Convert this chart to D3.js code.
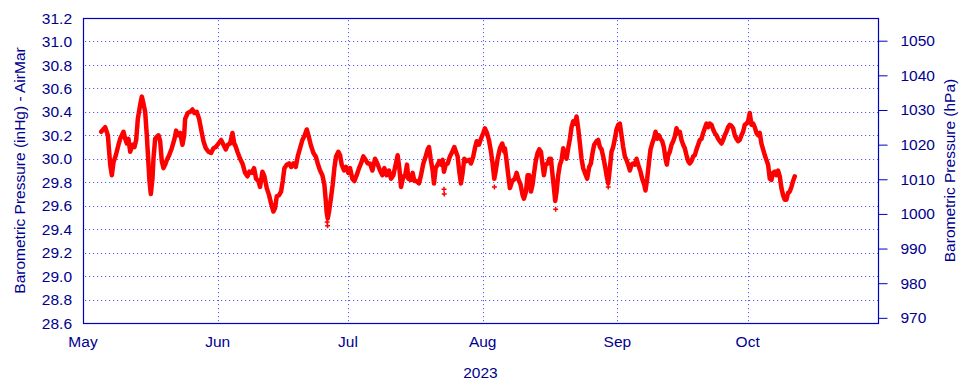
<!DOCTYPE html>
<html>
<head>
<meta charset="utf-8">
<script src="https://cdn.jsdelivr.net/npm/d3@7"></script>
<style>
  body { margin: 0; background: #fff; }
  svg { display: block; font-family: "Liberation Sans", Arial, sans-serif; }
</style>
</head>
<body>
<svg width="960" height="384"></svg>
<script>
// readings: [days since 1 May 2023, pressure inHg]
var mayReadings = [
  [4.19, 30.23], [5.11, 30.27], [5.72, 30.20], [6.26, 29.95], [6.64, 29.86], [7.02, 29.97],
  [7.56, 30.03], [8.17, 30.12], [8.56, 30.17], [9.32, 30.23], [9.71, 30.17], [10.09, 30.13],
  [10.47, 30.17], [10.86, 30.06], [11.39, 30.12], [11.85, 30.10], [12.24, 30.16], [12.62, 30.34],
  [13.16, 30.46], [13.54, 30.53], [13.92, 30.47], [14.31, 30.40], [14.69, 30.20], [15.08, 29.95],
  [15.30, 29.81], [15.61, 29.70], [15.99, 29.83], [16.22, 30.00], [16.61, 30.17], [17.07, 30.19],
  [17.38, 30.20], [17.76, 30.15], [18.14, 29.98], [18.53, 29.92], [18.91, 29.95], [19.29, 29.99],
  [19.83, 30.03], [20.44, 30.09], [21.06, 30.17], [21.44, 30.24], [21.82, 30.20], [22.36, 30.22],
  [22.90, 30.12], [23.28, 30.20], [23.51, 30.34], [24.12, 30.39], [24.66, 30.40], [25.20, 30.42],
  [25.66, 30.39], [26.19, 30.40], [26.73, 30.34], [27.19, 30.25], [27.73, 30.15], [28.27, 30.09],
  [28.88, 30.06], [29.49, 30.05], [30.03, 30.09], [30.57, 30.10]
];
var junReadings = [
  [31.18, 30.13], [31.79, 30.16], [32.33, 30.12], [32.87, 30.08], [33.33, 30.12], [33.86, 30.13],
  [34.40, 30.22], [34.86, 30.12], [35.01, 30.12], [35.55, 30.06], [36.16, 30.00], [36.70, 29.96],
  [37.31, 29.88], [37.85, 29.85], [38.31, 29.89], [38.85, 29.88], [39.38, 29.92], [39.84, 29.83],
  [40.38, 29.81], [40.76, 29.76], [41.30, 29.89], [41.76, 29.85], [42.30, 29.75], [42.83, 29.69],
  [43.29, 29.62], [43.83, 29.55], [44.21, 29.58], [44.60, 29.68], [45.13, 29.69], [45.59, 29.72],
  [45.98, 29.81], [46.36, 29.92], [46.90, 29.95], [47.43, 29.96], [47.90, 29.93], [48.43, 29.96],
  [48.97, 29.93], [49.43, 30.02], [49.97, 30.09], [50.50, 30.16], [51.04, 30.20], [51.50, 30.25],
  [51.96, 30.19], [52.42, 30.12], [53.03, 30.05], [53.57, 30.02], [54.03, 29.96], [54.57, 29.90],
  [55.10, 29.86], [55.56, 29.78], [55.87, 29.65], [56.10, 29.54], [56.33, 29.49], [56.64, 29.55],
  [57.02, 29.65], [57.48, 29.78], [57.86, 29.92], [58.25, 30.02], [58.78, 30.06], [59.17, 30.03],
  [59.55, 29.95], [60.09, 29.90], [60.55, 29.93]
];
var julReadings = [
  [61.08, 29.88], [61.47, 29.92], [62.00, 29.83], [62.46, 29.81], [63.00, 29.86], [63.54, 29.92],
  [64.00, 29.96], [64.53, 30.02], [65.07, 29.99], [65.53, 29.96], [66.07, 29.96], [66.61, 29.90],
  [67.22, 30.00], [67.75, 29.96], [68.37, 29.90], [68.91, 29.86], [69.37, 29.92], [69.90, 29.86],
  [70.44, 29.90], [70.90, 29.83], [71.44, 29.86], [71.97, 29.95], [72.43, 30.03], [72.82, 29.92],
  [73.20, 29.76], [73.74, 29.85], [74.12, 29.85], [74.58, 29.95], [74.89, 29.83], [75.42, 29.82],
  [75.88, 29.88], [76.27, 29.81], [76.80, 29.81], [77.34, 29.79], [77.80, 29.86], [78.34, 29.96],
  [78.88, 30.02], [79.34, 30.08], [79.64, 30.10], [80.03, 30.00], [80.49, 29.90], [80.79, 29.79],
  [81.18, 29.92], [81.64, 29.95], [82.02, 29.98], [82.40, 29.95], [82.79, 29.99], [83.09, 29.89],
  [83.48, 29.95], [83.94, 29.96], [84.47, 30.02], [85.01, 30.06], [85.47, 30.10], [85.85, 30.06],
  [86.24, 30.02], [86.62, 29.89], [87.00, 29.79], [87.39, 29.88], [87.77, 30.00], [88.31, 29.98],
  [88.84, 29.99], [89.30, 29.96], [89.84, 30.02], [90.22, 30.09], [90.61, 30.15], [91.14, 30.12],
  [91.60, 30.17]
];
var augReadings = [
  [92.14, 30.22], [92.52, 30.26], [92.98, 30.22], [93.44, 30.16], [93.91, 30.06], [94.29, 29.96],
  [94.67, 29.83], [94.98, 29.89], [95.44, 30.00], [95.98, 30.09], [96.51, 30.13], [96.97, 30.06],
  [97.12, 30.09], [97.51, 29.98], [97.89, 29.86], [98.27, 29.75], [98.81, 29.81], [99.42, 29.83],
  [99.81, 29.88], [100.19, 29.83], [100.73, 29.78], [101.19, 29.69], [101.50, 29.66], [101.96, 29.72],
  [102.34, 29.86], [102.72, 29.86], [103.11, 29.72], [103.49, 29.78], [103.87, 29.89], [104.26, 29.99],
  [104.64, 30.05], [105.02, 30.08], [105.41, 30.06], [105.79, 29.95], [106.10, 29.86], [106.48, 29.95],
  [106.94, 29.96], [107.32, 30.00], [107.71, 30.00], [108.09, 29.86], [108.40, 29.75], [108.70, 29.64],
  [109.01, 29.72], [109.39, 29.86], [109.78, 29.95], [110.16, 29.99], [110.54, 30.09], [110.93, 30.03],
  [111.31, 30.00], [111.69, 30.09], [112.08, 30.17], [112.46, 30.27], [112.84, 30.32], [113.23, 30.30],
  [113.61, 30.36], [113.99, 30.26], [114.38, 30.13], [114.76, 30.00], [115.14, 29.92], [115.53, 29.88],
  [116.06, 29.83], [116.52, 29.93], [116.91, 29.96], [117.29, 30.05], [117.67, 30.12], [118.21, 30.15],
  [118.59, 30.16], [118.98, 30.10], [119.36, 30.08], [119.74, 30.02], [120.20, 29.93], [120.51, 29.86],
  [120.89, 29.79], [121.28, 29.92], [121.66, 30.06], [122.04, 30.10], [122.43, 30.17], [122.81, 30.25]
];
var sepReadings = [
  [123.20, 30.29], [123.58, 30.30], [123.96, 30.20], [124.35, 30.10], [124.73, 30.02], [125.11, 29.99],
  [125.50, 29.95], [125.88, 29.90], [126.26, 29.95], [126.65, 29.96], [127.03, 29.95], [127.42, 30.00],
  [127.80, 29.95], [128.33, 29.89], [128.72, 29.83], [129.18, 29.78], [129.48, 29.73], [129.87, 29.83],
  [130.25, 29.96], [130.64, 30.08], [131.02, 30.13], [131.40, 30.17], [131.79, 30.23], [132.17, 30.17],
  [132.55, 30.20], [132.94, 30.17], [133.32, 30.15], [133.70, 30.10], [134.09, 30.00], [134.39, 29.95],
  [134.70, 30.03], [135.08, 30.06], [135.47, 30.12], [135.85, 30.15], [136.23, 30.19], [136.62, 30.26],
  [137.00, 30.22], [137.38, 30.23], [137.77, 30.16], [138.15, 30.12], [138.53, 30.09], [138.92, 30.03],
  [139.30, 29.98], [139.68, 29.96], [140.07, 29.98], [140.45, 30.02], [140.83, 30.03], [141.22, 30.08],
  [141.60, 30.12], [141.98, 30.16], [142.37, 30.17], [142.75, 30.22], [143.13, 30.26], [143.52, 30.30],
  [143.90, 30.27], [144.28, 30.30], [144.67, 30.29], [145.05, 30.25], [145.43, 30.22], [145.82, 30.20],
  [146.20, 30.17], [146.58, 30.15], [146.97, 30.13], [147.35, 30.16], [147.73, 30.20], [148.12, 30.23],
  [148.50, 30.27], [148.88, 30.29], [149.27, 30.28], [149.65, 30.26], [150.03, 30.20], [150.42, 30.17],
  [150.80, 30.15], [151.18, 30.16], [151.57, 30.20], [151.95, 30.23], [152.33, 30.29], [152.72, 30.30]
];
var octReadings = [
  [153.10, 30.32], [153.48, 30.39], [153.87, 30.29], [154.25, 30.30], [154.63, 30.27], [155.02, 30.22],
  [155.40, 30.20], [155.78, 30.22], [156.17, 30.13], [156.55, 30.08], [156.94, 30.03], [157.32, 29.99],
  [157.70, 29.95], [158.09, 29.83], [158.47, 29.82], [158.85, 29.88], [159.24, 29.89], [159.62, 29.86],
  [160.00, 29.90], [160.39, 29.85], [160.77, 29.75], [161.15, 29.69], [161.54, 29.65], [161.92, 29.65],
  [162.30, 29.71], [162.69, 29.72], [163.07, 29.76], [163.45, 29.81], [163.84, 29.85]
];
// stray single readings below the trace
var strayReadings = [
  [56.2, 29.46], [56.3, 29.43], [83.1, 29.74], [83.15, 29.70], [94.7, 29.76], [108.8, 29.57], [120.9, 29.76]
];

var leftTicks = [28.6, 28.8, 29.0, 29.2, 29.4, 29.6, 29.8, 30.0, 30.2, 30.4, 30.6, 30.8, 31.0, 31.2];
var rightTicks = [970, 980, 990, 1000, 1010, 1020, 1030, 1040, 1050];
var HPA_PER_INHG = 33.8639;

var svg = d3.select('svg');
var plotLeft = 83, plotRight = 878, plotTop = 18, plotBottom = 323;
var navy = '#00008f';
var gridColor = '#5a5aff';

var start = new Date(2023, 4, 1);
var toDate = function(d) { return new Date(start.getTime() + d * 864e5); };

var x = d3.scaleTime().domain([start, new Date(2023, 9, 31)]).range([plotLeft, plotRight]);
var y = d3.scaleLinear().domain([28.6, 31.2]).range([plotBottom, plotTop]);
var yR = d3.scaleLinear().domain([28.6 * HPA_PER_INHG, 31.2 * HPA_PER_INHG]).range([plotBottom, plotTop]);

var months = x.ticks(d3.timeMonth.every(1));

// grid
var grid = svg.append('g')
  .attr('stroke', gridColor).attr('stroke-width', 1)
  .attr('stroke-dasharray', '1.2,2.8');
grid.selectAll('line.h')
  .data(leftTicks.filter(function(t) { return t > 28.61 && t < 31.19; }))
  .enter().append('line')
  .attr('x1', plotLeft + 2).attr('x2', plotRight)
  .attr('y1', function(d) { return Math.round(y(d)) + 0.5; })
  .attr('y2', function(d) { return Math.round(y(d)) + 0.5; });
grid.selectAll('line.v')
  .data(months.filter(function(m) { return x(m) > plotLeft + 2; }))
  .enter().append('line')
  .attr('y1', plotTop + 2).attr('y2', plotBottom)
  .attr('x1', function(d) { return Math.round(x(d)) + 0.5; })
  .attr('x2', function(d) { return Math.round(x(d)) + 0.5; });

// data
var allReadings = [].concat(mayReadings, junReadings, julReadings, augReadings, sepReadings, octReadings);
var line = d3.line()
  .x(function(d) { return x(toDate(d[0])); })
  .y(function(d) { return y(d[1]); });

svg.append('path')
  .datum(allReadings)
  .attr('d', line)
  .attr('fill', 'none')
  .attr('stroke', '#ff0000')
  .attr('stroke-width', 4.5)
  .attr('stroke-linejoin', 'round')
  .attr('stroke-linecap', 'round');

svg.append('g').selectAll('path')
  .data(strayReadings)
  .enter().append('path')
  .attr('transform', function(d) { return 'translate(' + x(toDate(d[0])) + ',' + y(d[1]) + ')'; })
  .attr('d', 'M-2.5,0H2.5M0,-2.5V2.5')
  .attr('stroke', '#ff0000')
  .attr('stroke-width', 1.5);

// frame
svg.append('rect')
  .attr('x', plotLeft + 0.5).attr('y', plotTop + 0.5)
  .attr('width', plotRight - plotLeft).attr('height', plotBottom - plotTop)
  .attr('fill', 'none').attr('stroke', '#0000c0').attr('stroke-width', 1.2);

// left axis labels
svg.append('g').selectAll('text')
  .data(leftTicks)
  .enter().append('text')
  .attr('x', 72).attr('y', function(d) { return y(d); })
  .attr('dy', '0.36em')
  .attr('text-anchor', 'end')
  .attr('fill', navy).attr('font-size', 15.5)
  .text(d3.format('.1f'));

// right axis
var rightAxis = d3.axisRight(yR).tickValues(rightTicks).tickFormat(d3.format('d')).tickSize(9).tickPadding(13);
var ra = svg.append('g').attr('transform', 'translate(' + (plotRight + 0.5) + ',0)').call(rightAxis);
ra.select('.domain').remove();
ra.selectAll('line').attr('stroke', '#0000c0');
ra.attr('font-family', null).attr('font-size', null);
ra.selectAll('text').attr('fill', navy).attr('font-size', 15.5);

// bottom axis labels
svg.append('g').selectAll('text')
  .data(months)
  .enter().append('text')
  .attr('x', function(d) { return x(d); }).attr('y', 347)
  .attr('text-anchor', 'middle')
  .attr('fill', navy).attr('font-size', 15.5)
  .text(d3.timeFormat('%b'));

svg.append('text')
  .attr('x', (plotLeft + plotRight) / 2).attr('y', 378)
  .attr('text-anchor', 'middle')
  .attr('fill', navy).attr('font-size', 15.5)
  .text('2023');

svg.append('text')
  .attr('transform', 'translate(25,' + (plotTop + plotBottom) / 2 + ') rotate(-90)')
  .attr('text-anchor', 'middle')
  .attr('fill', navy).attr('font-size', 15.5)
  .text('Barometric Pressure (inHg) - AirMar');

svg.append('text')
  .attr('transform', 'translate(955,' + (plotTop + plotBottom) / 2 + ') rotate(-90)')
  .attr('text-anchor', 'middle')
  .attr('fill', navy).attr('font-size', 15.5)
  .text('Barometric Pressure (hPa)');
</script>
</body>
</html>
